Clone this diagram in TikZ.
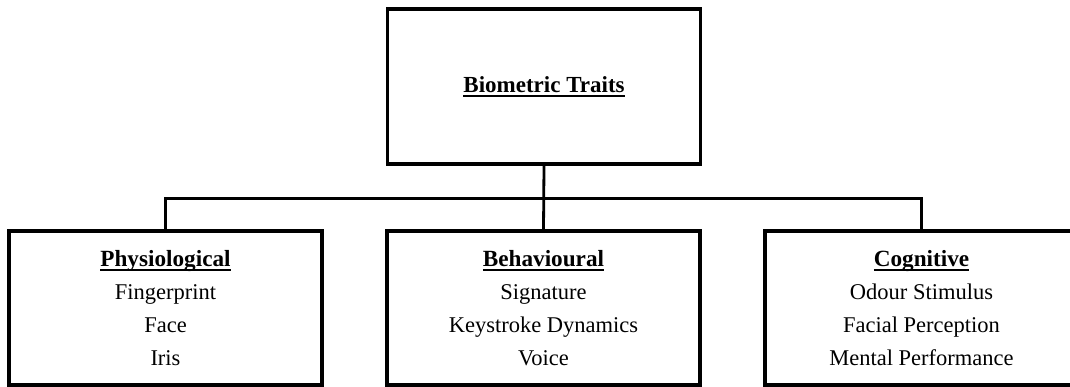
\documentclass[tikz,border=0pt]{standalone}
\usepackage{fontspec}
\setmainfont{Liberation Serif}
\newcommand\ulx[1]{\setbox0\hbox{#1}\rlap{\rule[-4.4pt]{\wd0}{2.1pt}}\box0}
\begin{document}
\begin{tikzpicture}[x=1pt,y=-1pt,
  box/.style={draw=black,line width=3.1pt,minimum width=313pt,inner sep=0pt,
    align=center,font=\fontsize{22.5}{33}\selectfont},
  link/.style={draw=black,line width=2.8pt}]
\useasboundingbox (0,0) rectangle (1070,387);
\clip (0,0) rectangle (1070,387);
\fill[white] (0,0) rectangle (1070,387);
\node[box,minimum height=155pt] (top) at (544,86.5)
  {\raisebox{-2pt}{\fontsize{23}{33}\selectfont\bfseries\ulx{Biometric Traits}}};
\node[box,minimum height=154pt] (phys) at (165.5,308)
  {{\fontsize{23.2}{33}\selectfont\bfseries\ulx{Physiological}}\\Fingerprint\\Face\\Iris};
\node[box,minimum height=154pt] (beh) at (543.5,308)
  {{\fontsize{23.2}{33}\selectfont\bfseries\ulx{Behavioural}}\\Signature\\Keystroke Dynamics\\Voice};
\node[box,minimum height=154pt] (cog) at (921.5,308)
  {{\fontsize{23.2}{33}\selectfont\bfseries\ulx{Cognitive}}\\Odour Stimulus\\Facial Perception\\Mental Performance};
\coordinate (hub) at (544,198.5);
\draw[link] (top.south) -- (beh.north);
\draw[link,line join=miter] (phys.north) |- (hub) -| (cog.north);
\end{tikzpicture}
\end{document}
